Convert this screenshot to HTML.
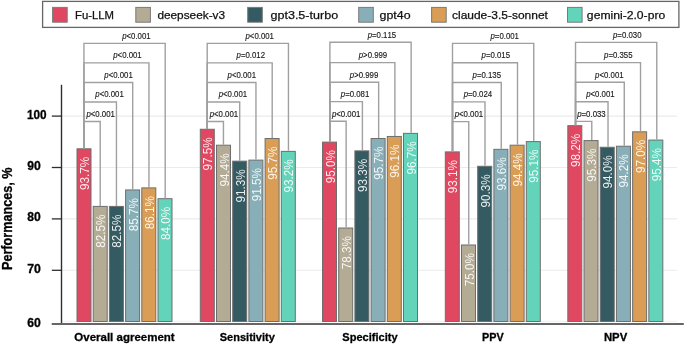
<!DOCTYPE html><html><head><meta charset="utf-8"><style>html,body{margin:0;padding:0;background:#fff;overflow:hidden;}svg{display:block;will-change:transform;}text{font-family:"Liberation Sans", sans-serif;font-kerning:none;}</style></head><body>
<svg width="685" height="344" viewBox="0 0 685 344">
<line x1="62" y1="321.3" x2="677" y2="321.3" stroke="#f0f0f0" stroke-width="1"/>
<line x1="62" y1="116.10" x2="677" y2="116.10" stroke="#ebebeb" stroke-width="1.1"/>
<line x1="62" y1="167.50" x2="677" y2="167.50" stroke="#ebebeb" stroke-width="1.1"/>
<line x1="62" y1="218.90" x2="677" y2="218.90" stroke="#ebebeb" stroke-width="1.1"/>
<line x1="62" y1="270.30" x2="677" y2="270.30" stroke="#ebebeb" stroke-width="1.1"/>
<rect x="77.00" y="148.80" width="14.00" height="172.70" fill="#E04862" stroke="#6e6e6e" stroke-width="1"/>
<rect x="93.20" y="206.40" width="14.00" height="115.10" fill="#B3AB94" stroke="#6e6e6e" stroke-width="1"/>
<rect x="109.40" y="206.40" width="14.00" height="115.10" fill="#355B62" stroke="#6e6e6e" stroke-width="1"/>
<rect x="125.60" y="189.94" width="14.00" height="131.56" fill="#88AFB8" stroke="#6e6e6e" stroke-width="1"/>
<rect x="141.80" y="187.89" width="14.00" height="133.61" fill="#D99D55" stroke="#6e6e6e" stroke-width="1"/>
<rect x="158.00" y="198.69" width="14.00" height="122.81" fill="#63D3BA" stroke="#6e6e6e" stroke-width="1"/>
<rect x="200.30" y="129.26" width="14.00" height="192.24" fill="#E04862" stroke="#6e6e6e" stroke-width="1"/>
<rect x="216.50" y="145.20" width="14.00" height="176.30" fill="#B3AB94" stroke="#6e6e6e" stroke-width="1"/>
<rect x="232.70" y="161.14" width="14.00" height="160.36" fill="#355B62" stroke="#6e6e6e" stroke-width="1"/>
<rect x="248.90" y="160.12" width="14.00" height="161.38" fill="#88AFB8" stroke="#6e6e6e" stroke-width="1"/>
<rect x="265.10" y="138.51" width="14.00" height="182.99" fill="#D99D55" stroke="#6e6e6e" stroke-width="1"/>
<rect x="281.30" y="151.37" width="14.00" height="170.13" fill="#63D3BA" stroke="#6e6e6e" stroke-width="1"/>
<rect x="322.50" y="142.12" width="14.00" height="179.38" fill="#E04862" stroke="#6e6e6e" stroke-width="1"/>
<rect x="338.70" y="228.00" width="14.00" height="93.50" fill="#B3AB94" stroke="#6e6e6e" stroke-width="1"/>
<rect x="354.90" y="150.86" width="14.00" height="170.64" fill="#355B62" stroke="#6e6e6e" stroke-width="1"/>
<rect x="371.10" y="138.51" width="14.00" height="182.99" fill="#88AFB8" stroke="#6e6e6e" stroke-width="1"/>
<rect x="387.30" y="136.46" width="14.00" height="185.04" fill="#D99D55" stroke="#6e6e6e" stroke-width="1"/>
<rect x="403.50" y="133.37" width="14.00" height="188.13" fill="#63D3BA" stroke="#6e6e6e" stroke-width="1"/>
<rect x="445.30" y="151.89" width="14.00" height="169.61" fill="#E04862" stroke="#6e6e6e" stroke-width="1"/>
<rect x="461.50" y="244.98" width="14.00" height="76.52" fill="#B3AB94" stroke="#6e6e6e" stroke-width="1"/>
<rect x="477.70" y="166.29" width="14.00" height="155.21" fill="#355B62" stroke="#6e6e6e" stroke-width="1"/>
<rect x="493.90" y="149.32" width="14.00" height="172.18" fill="#88AFB8" stroke="#6e6e6e" stroke-width="1"/>
<rect x="510.10" y="145.20" width="14.00" height="176.30" fill="#D99D55" stroke="#6e6e6e" stroke-width="1"/>
<rect x="526.30" y="141.60" width="14.00" height="179.90" fill="#63D3BA" stroke="#6e6e6e" stroke-width="1"/>
<rect x="567.82" y="125.66" width="14.00" height="195.84" fill="#E04862" stroke="#6e6e6e" stroke-width="1"/>
<rect x="584.02" y="140.57" width="14.00" height="180.93" fill="#B3AB94" stroke="#6e6e6e" stroke-width="1"/>
<rect x="600.22" y="147.26" width="14.00" height="174.24" fill="#355B62" stroke="#6e6e6e" stroke-width="1"/>
<rect x="616.42" y="146.23" width="14.00" height="175.27" fill="#88AFB8" stroke="#6e6e6e" stroke-width="1"/>
<rect x="632.62" y="131.83" width="14.00" height="189.67" fill="#D99D55" stroke="#6e6e6e" stroke-width="1"/>
<rect x="648.82" y="140.06" width="14.00" height="181.44" fill="#63D3BA" stroke="#6e6e6e" stroke-width="1"/>
<path d="M83.95 148.30 V121.50 H100.20 V205.90" fill="none" stroke="#a0a0a0" stroke-width="1.4"/>
<text x="86.39" y="116.90" font-size="8.60" fill="#1a1a1a" textLength="28.49" lengthAdjust="spacingAndGlyphs" stroke="#1a1a1a" stroke-width="0.15"><tspan font-style="italic">p</tspan>&lt;0.001</text>
<path d="M83.95 148.30 V102.00 H116.45 V205.90" fill="none" stroke="#a0a0a0" stroke-width="1.4"/>
<text x="95.34" y="97.40" font-size="8.60" fill="#1a1a1a" textLength="28.49" lengthAdjust="spacingAndGlyphs" stroke="#1a1a1a" stroke-width="0.15"><tspan font-style="italic">p</tspan>&lt;0.001</text>
<path d="M83.95 148.30 V82.50 H132.70 V189.44" fill="none" stroke="#a0a0a0" stroke-width="1.4"/>
<text x="104.29" y="77.90" font-size="8.60" fill="#1a1a1a" textLength="28.49" lengthAdjust="spacingAndGlyphs" stroke="#1a1a1a" stroke-width="0.15"><tspan font-style="italic">p</tspan>&lt;0.001</text>
<path d="M83.95 148.30 V62.90 H148.95 V187.39" fill="none" stroke="#a0a0a0" stroke-width="1.4"/>
<text x="113.24" y="58.30" font-size="8.60" fill="#1a1a1a" textLength="28.49" lengthAdjust="spacingAndGlyphs" stroke="#1a1a1a" stroke-width="0.15"><tspan font-style="italic">p</tspan>&lt;0.001</text>
<path d="M83.95 148.30 V43.40 H165.20 V198.19" fill="none" stroke="#a0a0a0" stroke-width="1.4"/>
<text x="122.19" y="38.80" font-size="8.60" fill="#1a1a1a" textLength="28.49" lengthAdjust="spacingAndGlyphs" stroke="#1a1a1a" stroke-width="0.15"><tspan font-style="italic">p</tspan>&lt;0.001</text>
<path d="M207.20 128.76 V121.50 H223.45 V144.70" fill="none" stroke="#a0a0a0" stroke-width="1.4"/>
<text x="209.69" y="116.90" font-size="8.60" fill="#1a1a1a" textLength="28.49" lengthAdjust="spacingAndGlyphs" stroke="#1a1a1a" stroke-width="0.15"><tspan font-style="italic">p</tspan>&lt;0.001</text>
<path d="M207.20 128.76 V102.00 H239.70 V160.64" fill="none" stroke="#a0a0a0" stroke-width="1.4"/>
<text x="218.64" y="97.40" font-size="8.60" fill="#1a1a1a" textLength="28.49" lengthAdjust="spacingAndGlyphs" stroke="#1a1a1a" stroke-width="0.15"><tspan font-style="italic">p</tspan>&lt;0.001</text>
<path d="M207.20 128.76 V82.50 H255.95 V159.62" fill="none" stroke="#a0a0a0" stroke-width="1.4"/>
<text x="227.59" y="77.90" font-size="8.60" fill="#1a1a1a" textLength="28.49" lengthAdjust="spacingAndGlyphs" stroke="#1a1a1a" stroke-width="0.15"><tspan font-style="italic">p</tspan>&lt;0.001</text>
<path d="M207.20 128.76 V62.90 H272.20 V138.01" fill="none" stroke="#a0a0a0" stroke-width="1.4"/>
<text x="236.54" y="58.30" font-size="8.60" fill="#1a1a1a" textLength="28.49" lengthAdjust="spacingAndGlyphs" stroke="#1a1a1a" stroke-width="0.15"><tspan font-style="italic">p</tspan>=0.012</text>
<path d="M207.20 128.76 V43.40 H288.45 V150.87" fill="none" stroke="#a0a0a0" stroke-width="1.4"/>
<text x="245.49" y="38.80" font-size="8.60" fill="#1a1a1a" textLength="28.49" lengthAdjust="spacingAndGlyphs" stroke="#1a1a1a" stroke-width="0.15"><tspan font-style="italic">p</tspan>&lt;0.001</text>
<path d="M329.90 141.62 V121.30 H346.15 V227.50" fill="none" stroke="#a0a0a0" stroke-width="1.4"/>
<text x="331.89" y="116.70" font-size="8.60" fill="#1a1a1a" textLength="28.49" lengthAdjust="spacingAndGlyphs" stroke="#1a1a1a" stroke-width="0.15"><tspan font-style="italic">p</tspan>&lt;0.001</text>
<path d="M329.90 141.62 V101.60 H362.40 V150.36" fill="none" stroke="#a0a0a0" stroke-width="1.4"/>
<text x="340.84" y="97.00" font-size="8.60" fill="#1a1a1a" textLength="28.49" lengthAdjust="spacingAndGlyphs" stroke="#1a1a1a" stroke-width="0.15"><tspan font-style="italic">p</tspan>=0.081</text>
<path d="M329.90 141.62 V82.30 H378.65 V138.01" fill="none" stroke="#a0a0a0" stroke-width="1.4"/>
<text x="349.79" y="77.70" font-size="8.60" fill="#1a1a1a" textLength="28.49" lengthAdjust="spacingAndGlyphs" stroke="#1a1a1a" stroke-width="0.15"><tspan font-style="italic">p</tspan>&gt;0.999</text>
<path d="M329.90 141.62 V62.60 H394.90 V135.96" fill="none" stroke="#a0a0a0" stroke-width="1.4"/>
<text x="358.74" y="58.00" font-size="8.60" fill="#1a1a1a" textLength="28.49" lengthAdjust="spacingAndGlyphs" stroke="#1a1a1a" stroke-width="0.15"><tspan font-style="italic">p</tspan>&gt;0.999</text>
<path d="M329.90 141.62 V42.30 H411.15 V132.87" fill="none" stroke="#a0a0a0" stroke-width="1.4"/>
<text x="367.69" y="37.70" font-size="8.60" fill="#1a1a1a" textLength="28.49" lengthAdjust="spacingAndGlyphs" stroke="#1a1a1a" stroke-width="0.15"><tspan font-style="italic">p</tspan>=0.115</text>
<path d="M452.50 151.39 V121.60 H468.75 V244.48" fill="none" stroke="#a0a0a0" stroke-width="1.4"/>
<text x="454.69" y="117.00" font-size="8.60" fill="#1a1a1a" textLength="28.49" lengthAdjust="spacingAndGlyphs" stroke="#1a1a1a" stroke-width="0.15"><tspan font-style="italic">p</tspan>&lt;0.001</text>
<path d="M452.50 151.39 V101.90 H485.00 V165.79" fill="none" stroke="#a0a0a0" stroke-width="1.4"/>
<text x="463.64" y="97.30" font-size="8.60" fill="#1a1a1a" textLength="28.49" lengthAdjust="spacingAndGlyphs" stroke="#1a1a1a" stroke-width="0.15"><tspan font-style="italic">p</tspan>=0.024</text>
<path d="M452.50 151.39 V82.50 H501.25 V148.82" fill="none" stroke="#a0a0a0" stroke-width="1.4"/>
<text x="472.59" y="77.90" font-size="8.60" fill="#1a1a1a" textLength="28.49" lengthAdjust="spacingAndGlyphs" stroke="#1a1a1a" stroke-width="0.15"><tspan font-style="italic">p</tspan>=0.135</text>
<path d="M452.50 151.39 V62.80 H517.50 V144.70" fill="none" stroke="#a0a0a0" stroke-width="1.4"/>
<text x="481.54" y="58.20" font-size="8.60" fill="#1a1a1a" textLength="28.49" lengthAdjust="spacingAndGlyphs" stroke="#1a1a1a" stroke-width="0.15"><tspan font-style="italic">p</tspan>=0.015</text>
<path d="M452.50 151.39 V43.40 H533.75 V141.10" fill="none" stroke="#a0a0a0" stroke-width="1.4"/>
<text x="490.49" y="38.80" font-size="8.60" fill="#1a1a1a" textLength="28.49" lengthAdjust="spacingAndGlyphs" stroke="#1a1a1a" stroke-width="0.15"><tspan font-style="italic">p</tspan>=0.001</text>
<path d="M575.52 125.16 V121.40 H591.77 V140.07" fill="none" stroke="#a0a0a0" stroke-width="1.4"/>
<text x="577.21" y="116.80" font-size="8.60" fill="#1a1a1a" textLength="28.49" lengthAdjust="spacingAndGlyphs" stroke="#1a1a1a" stroke-width="0.15"><tspan font-style="italic">p</tspan>=0.033</text>
<path d="M575.52 125.16 V101.70 H608.02 V146.76" fill="none" stroke="#a0a0a0" stroke-width="1.4"/>
<text x="586.16" y="97.10" font-size="8.60" fill="#1a1a1a" textLength="28.49" lengthAdjust="spacingAndGlyphs" stroke="#1a1a1a" stroke-width="0.15"><tspan font-style="italic">p</tspan>&lt;0.001</text>
<path d="M575.52 125.16 V82.30 H624.27 V145.73" fill="none" stroke="#a0a0a0" stroke-width="1.4"/>
<text x="595.11" y="77.70" font-size="8.60" fill="#1a1a1a" textLength="28.49" lengthAdjust="spacingAndGlyphs" stroke="#1a1a1a" stroke-width="0.15"><tspan font-style="italic">p</tspan>&lt;0.001</text>
<path d="M575.52 125.16 V62.60 H640.52 V131.33" fill="none" stroke="#a0a0a0" stroke-width="1.4"/>
<text x="604.06" y="58.00" font-size="8.60" fill="#1a1a1a" textLength="28.49" lengthAdjust="spacingAndGlyphs" stroke="#1a1a1a" stroke-width="0.15"><tspan font-style="italic">p</tspan>=0.355</text>
<path d="M575.52 125.16 V42.40 H656.77 V139.56" fill="none" stroke="#a0a0a0" stroke-width="1.4"/>
<text x="613.01" y="37.80" font-size="8.60" fill="#1a1a1a" textLength="28.49" lengthAdjust="spacingAndGlyphs" stroke="#1a1a1a" stroke-width="0.15"><tspan font-style="italic">p</tspan>=0.030</text>
<text transform="translate(89.00,157.30) rotate(-90)" x="-32.75" y="0" font-size="12.2" fill="#fff" fill-opacity="0.9" textLength="33.17" lengthAdjust="spacingAndGlyphs">93.7%</text>
<text transform="translate(105.20,214.90) rotate(-90)" x="-32.75" y="0" font-size="12.2" fill="#fff" fill-opacity="0.9" textLength="33.17" lengthAdjust="spacingAndGlyphs">82.5%</text>
<text transform="translate(121.40,214.90) rotate(-90)" x="-32.75" y="0" font-size="12.2" fill="#fff" fill-opacity="0.9" textLength="33.17" lengthAdjust="spacingAndGlyphs">82.5%</text>
<text transform="translate(137.60,198.44) rotate(-90)" x="-32.75" y="0" font-size="12.2" fill="#fff" fill-opacity="0.9" textLength="33.17" lengthAdjust="spacingAndGlyphs">85.7%</text>
<text transform="translate(153.80,196.39) rotate(-90)" x="-32.75" y="0" font-size="12.2" fill="#fff" fill-opacity="0.9" textLength="33.17" lengthAdjust="spacingAndGlyphs">86.1%</text>
<text transform="translate(170.00,207.19) rotate(-90)" x="-32.75" y="0" font-size="12.2" fill="#fff" fill-opacity="0.9" textLength="33.17" lengthAdjust="spacingAndGlyphs">84.0%</text>
<text transform="translate(212.30,137.76) rotate(-90)" x="-32.75" y="0" font-size="12.2" fill="#fff" fill-opacity="0.9" textLength="33.17" lengthAdjust="spacingAndGlyphs">97.5%</text>
<text transform="translate(228.50,153.70) rotate(-90)" x="-32.75" y="0" font-size="12.2" fill="#fff" fill-opacity="0.9" textLength="33.17" lengthAdjust="spacingAndGlyphs">94.4%</text>
<text transform="translate(244.70,169.64) rotate(-90)" x="-32.75" y="0" font-size="12.2" fill="#fff" fill-opacity="0.9" textLength="33.17" lengthAdjust="spacingAndGlyphs">91.3%</text>
<text transform="translate(260.90,168.62) rotate(-90)" x="-32.75" y="0" font-size="12.2" fill="#fff" fill-opacity="0.9" textLength="33.17" lengthAdjust="spacingAndGlyphs">91.5%</text>
<text transform="translate(277.10,147.01) rotate(-90)" x="-32.75" y="0" font-size="12.2" fill="#fff" fill-opacity="0.9" textLength="33.17" lengthAdjust="spacingAndGlyphs">95.7%</text>
<text transform="translate(293.30,159.87) rotate(-90)" x="-32.75" y="0" font-size="12.2" fill="#fff" fill-opacity="0.9" textLength="33.17" lengthAdjust="spacingAndGlyphs">93.2%</text>
<text transform="translate(334.50,150.62) rotate(-90)" x="-32.75" y="0" font-size="12.2" fill="#fff" fill-opacity="0.9" textLength="33.17" lengthAdjust="spacingAndGlyphs">95.0%</text>
<text transform="translate(350.70,236.50) rotate(-90)" x="-32.75" y="0" font-size="12.2" fill="#fff" fill-opacity="0.9" textLength="33.17" lengthAdjust="spacingAndGlyphs">78.3%</text>
<text transform="translate(366.90,159.36) rotate(-90)" x="-32.75" y="0" font-size="12.2" fill="#fff" fill-opacity="0.9" textLength="33.17" lengthAdjust="spacingAndGlyphs">93.3%</text>
<text transform="translate(383.10,147.01) rotate(-90)" x="-32.75" y="0" font-size="12.2" fill="#fff" fill-opacity="0.9" textLength="33.17" lengthAdjust="spacingAndGlyphs">95.7%</text>
<text transform="translate(399.30,144.96) rotate(-90)" x="-32.75" y="0" font-size="12.2" fill="#fff" fill-opacity="0.9" textLength="33.17" lengthAdjust="spacingAndGlyphs">96.1%</text>
<text transform="translate(415.50,141.87) rotate(-90)" x="-32.75" y="0" font-size="12.2" fill="#fff" fill-opacity="0.9" textLength="33.17" lengthAdjust="spacingAndGlyphs">96.7%</text>
<text transform="translate(457.30,160.39) rotate(-90)" x="-32.75" y="0" font-size="12.2" fill="#fff" fill-opacity="0.9" textLength="33.17" lengthAdjust="spacingAndGlyphs">93.1%</text>
<text transform="translate(473.50,253.48) rotate(-90)" x="-32.75" y="0" font-size="12.2" fill="#fff" fill-opacity="0.9" textLength="33.17" lengthAdjust="spacingAndGlyphs">75.0%</text>
<text transform="translate(489.70,174.79) rotate(-90)" x="-32.75" y="0" font-size="12.2" fill="#fff" fill-opacity="0.9" textLength="33.17" lengthAdjust="spacingAndGlyphs">90.3%</text>
<text transform="translate(505.90,157.82) rotate(-90)" x="-32.75" y="0" font-size="12.2" fill="#fff" fill-opacity="0.9" textLength="33.17" lengthAdjust="spacingAndGlyphs">93.6%</text>
<text transform="translate(522.10,153.70) rotate(-90)" x="-32.75" y="0" font-size="12.2" fill="#fff" fill-opacity="0.9" textLength="33.17" lengthAdjust="spacingAndGlyphs">94.4%</text>
<text transform="translate(538.30,150.10) rotate(-90)" x="-32.75" y="0" font-size="12.2" fill="#fff" fill-opacity="0.9" textLength="33.17" lengthAdjust="spacingAndGlyphs">95.1%</text>
<text transform="translate(579.82,134.16) rotate(-90)" x="-32.75" y="0" font-size="12.2" fill="#fff" fill-opacity="0.9" textLength="33.17" lengthAdjust="spacingAndGlyphs">98.2%</text>
<text transform="translate(596.02,149.07) rotate(-90)" x="-32.75" y="0" font-size="12.2" fill="#fff" fill-opacity="0.9" textLength="33.17" lengthAdjust="spacingAndGlyphs">95.3%</text>
<text transform="translate(612.22,155.76) rotate(-90)" x="-32.75" y="0" font-size="12.2" fill="#fff" fill-opacity="0.9" textLength="33.17" lengthAdjust="spacingAndGlyphs">94.0%</text>
<text transform="translate(628.42,154.73) rotate(-90)" x="-32.75" y="0" font-size="12.2" fill="#fff" fill-opacity="0.9" textLength="33.17" lengthAdjust="spacingAndGlyphs">94.2%</text>
<text transform="translate(644.62,140.33) rotate(-90)" x="-32.75" y="0" font-size="12.2" fill="#fff" fill-opacity="0.9" textLength="33.17" lengthAdjust="spacingAndGlyphs">97.0%</text>
<text transform="translate(660.82,148.56) rotate(-90)" x="-32.75" y="0" font-size="12.2" fill="#fff" fill-opacity="0.9" textLength="33.17" lengthAdjust="spacingAndGlyphs">95.4%</text>
<line x1="61.5" y1="84.8" x2="61.5" y2="324" stroke="#2e2e2e" stroke-width="1.4"/>
<line x1="51.7" y1="324.0" x2="683.8" y2="324.0" stroke="#666" stroke-width="1.8"/>
<line x1="51.8" y1="116.10" x2="61.4" y2="116.10" stroke="#2e2e2e" stroke-width="1.3"/>
<line x1="51.8" y1="167.50" x2="61.4" y2="167.50" stroke="#2e2e2e" stroke-width="1.3"/>
<line x1="51.8" y1="218.90" x2="61.4" y2="218.90" stroke="#2e2e2e" stroke-width="1.3"/>
<line x1="51.8" y1="270.30" x2="61.4" y2="270.30" stroke="#2e2e2e" stroke-width="1.3"/>
<text x="26.96" y="118.50" font-size="12.00" font-weight="bold" fill="#000" textLength="19.62" lengthAdjust="spacingAndGlyphs" stroke="#000" stroke-width="0.3">100</text>
<text x="27.28" y="169.90" font-size="12.00" font-weight="bold" fill="#000" textLength="13.52" lengthAdjust="spacingAndGlyphs" stroke="#000" stroke-width="0.3">90</text>
<text x="27.32" y="221.30" font-size="12.00" font-weight="bold" fill="#000" textLength="13.48" lengthAdjust="spacingAndGlyphs" stroke="#000" stroke-width="0.3">80</text>
<text x="27.17" y="272.70" font-size="12.00" font-weight="bold" fill="#000" textLength="13.63" lengthAdjust="spacingAndGlyphs" stroke="#000" stroke-width="0.3">70</text>
<text x="27.25" y="327.00" font-size="12.00" font-weight="bold" fill="#000" textLength="13.55" lengthAdjust="spacingAndGlyphs" stroke="#000" stroke-width="0.3">60</text>
<text transform="translate(11.8,269.2) rotate(-90)" x="-0.85" y="0" font-size="13.8" font-weight="bold" fill="#000" stroke="#000" stroke-width="0.3" textLength="102.58" lengthAdjust="spacingAndGlyphs">Performances, %</text>
<text x="74.33" y="340.80" font-size="11.60" font-weight="bold" fill="#000" textLength="100.31" lengthAdjust="spacingAndGlyphs" stroke="#000" stroke-width="0.3">Overall agreement</text>
<text x="219.78" y="340.80" font-size="11.60" font-weight="bold" fill="#000" textLength="55.08" lengthAdjust="spacingAndGlyphs" stroke="#000" stroke-width="0.3">Sensitivity</text>
<text x="342.28" y="340.80" font-size="11.60" font-weight="bold" fill="#000" textLength="55.28" lengthAdjust="spacingAndGlyphs" stroke="#000" stroke-width="0.3">Specificity</text>
<text x="482.08" y="340.80" font-size="11.60" font-weight="bold" fill="#000" textLength="21.60" lengthAdjust="spacingAndGlyphs" stroke="#000" stroke-width="0.3">PPV</text>
<text x="603.94" y="340.80" font-size="11.60" font-weight="bold" fill="#000" textLength="23.23" lengthAdjust="spacingAndGlyphs" stroke="#000" stroke-width="0.3">NPV</text>
<rect x="42.6" y="1.4" width="636.3" height="26.0" fill="none" stroke="#666" stroke-width="1.3"/>
<rect x="52.60" y="7.4" width="14.6" height="14.8" fill="#E04862" stroke="#7a7a7a" stroke-width="1"/>
<text x="74.97" y="18.90" font-size="11.30" fill="#111" textLength="39.06" lengthAdjust="spacingAndGlyphs" stroke="#111" stroke-width="0.25">Fu-LLM</text>
<rect x="135.80" y="7.4" width="14.6" height="14.8" fill="#B3AB94" stroke="#7a7a7a" stroke-width="1"/>
<text x="157.40" y="18.90" font-size="11.30" fill="#111" textLength="67.72" lengthAdjust="spacingAndGlyphs" stroke="#111" stroke-width="0.25">deepseek-v3</text>
<rect x="247.70" y="7.4" width="14.6" height="14.8" fill="#355B62" stroke="#7a7a7a" stroke-width="1"/>
<text x="270.47" y="18.90" font-size="11.30" fill="#111" textLength="67.65" lengthAdjust="spacingAndGlyphs" stroke="#111" stroke-width="0.25">gpt3.5-turbo</text>
<rect x="358.70" y="7.4" width="14.6" height="14.8" fill="#88AFB8" stroke="#7a7a7a" stroke-width="1"/>
<text x="379.58" y="18.90" font-size="11.30" fill="#111" textLength="31.04" lengthAdjust="spacingAndGlyphs" stroke="#111" stroke-width="0.25">gpt4o</text>
<rect x="431.60" y="7.4" width="14.6" height="14.8" fill="#D99D55" stroke="#7a7a7a" stroke-width="1"/>
<text x="451.99" y="18.90" font-size="11.30" fill="#111" textLength="95.90" lengthAdjust="spacingAndGlyphs" stroke="#111" stroke-width="0.25">claude-3.5-sonnet</text>
<rect x="567.50" y="7.4" width="14.6" height="14.8" fill="#63D3BA" stroke="#7a7a7a" stroke-width="1"/>
<text x="586.89" y="18.90" font-size="11.30" fill="#111" textLength="78.32" lengthAdjust="spacingAndGlyphs" stroke="#111" stroke-width="0.25">gemini-2.0-pro</text>
</svg></body></html>
